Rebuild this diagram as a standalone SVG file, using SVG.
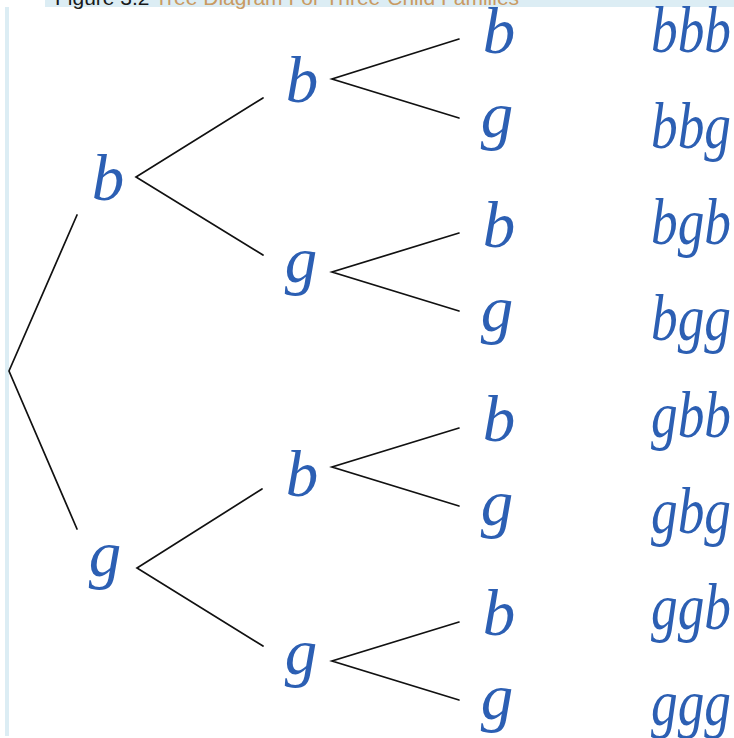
<svg xmlns="http://www.w3.org/2000/svg" width="734" height="738" viewBox="0 0 734 738">
<style>
.bg{fill:#ffffff}
.band{fill:#dcedf4}
.cap{font-family:"Liberation Sans",Arial,sans-serif;font-size:21px}
.capnum{fill:#1a1a1a}
.captitle{fill:#c99a62}
.node{font-family:"Liberation Serif","Times New Roman",serif;font-style:italic;font-size:65px;fill:#2c5fb3;text-anchor:middle}
.leaf{font-family:"Liberation Serif","Times New Roman",serif;font-style:italic;font-size:66px;fill:#2c5fb3}
.edge{stroke:#111111;stroke-width:1.7;fill:none;stroke-linecap:round}
</style>
<rect class="bg" x="0" y="0" width="734" height="738"/>
<rect class="band" x="45" y="0" width="689" height="7"/>
<rect class="band" x="5" y="7" width="4" height="729"/>
<text class="cap" x="55" y="5"><tspan class="capnum">Figure 3.2 </tspan><tspan class="captitle">Tree Diagram For Three-Child Families</tspan></text>

<g id="connectors">
<path class="edge" d="M77 215 L9 371 L77 529"/>
<path class="edge" d="M263 98 L136 177 L263 255"/>
<path class="edge" d="M262 489 L137 568 L263 646"/>
<path class="edge" d="M459 39 L332 79 L459 118"/>
<path class="edge" d="M459 233 L332 272 L459 311"/>
<path class="edge" d="M459 428 L332 467 L459 506"/>
<path class="edge" d="M459 622 L332 661 L459 700"/>
</g>

<g id="n-b"><text class="node" x="108" y="200">b</text></g>
<g id="n-g"><text class="node" x="105" y="576">g</text></g>

<g id="n-bb"><text class="node" x="302" y="102">b</text></g>
<g id="n-bg"><text class="node" x="301" y="282">g</text></g>
<g id="n-gb"><text class="node" x="302" y="496">b</text></g>
<g id="n-gg"><text class="node" x="301" y="674">g</text></g>

<g id="n-bbb"><text class="node" x="499" y="53">b</text></g>
<g id="n-bbg"><text class="node" x="497" y="137">g</text></g>
<g id="n-bgb"><text class="node" x="499" y="247">b</text></g>
<g id="n-bgg"><text class="node" x="497" y="331">g</text></g>
<g id="n-gbb"><text class="node" x="499" y="441">b</text></g>
<g id="n-gbg"><text class="node" x="497" y="525">g</text></g>
<g id="n-ggb"><text class="node" x="499" y="635">b</text></g>
<g id="n-ggg"><text class="node" x="497" y="719">g</text></g>

<g id="leaf-bbb"><text class="leaf" x="651" y="52" textLength="80" lengthAdjust="spacingAndGlyphs">bbb</text></g>
<g id="leaf-bbg"><text class="leaf" x="651" y="148" textLength="80" lengthAdjust="spacingAndGlyphs">bbg</text></g>
<g id="leaf-bgb"><text class="leaf" x="651" y="244" textLength="80" lengthAdjust="spacingAndGlyphs">bgb</text></g>
<g id="leaf-bgg"><text class="leaf" x="651" y="340" textLength="80" lengthAdjust="spacingAndGlyphs">bgg</text></g>
<g id="leaf-gbb"><text class="leaf" x="651" y="437" textLength="80" lengthAdjust="spacingAndGlyphs">gbb</text></g>
<g id="leaf-gbg"><text class="leaf" x="651" y="533" textLength="80" lengthAdjust="spacingAndGlyphs">gbg</text></g>
<g id="leaf-ggb"><text class="leaf" x="651" y="629" textLength="80" lengthAdjust="spacingAndGlyphs">ggb</text></g>
<g id="leaf-ggg"><text class="leaf" x="651" y="725" textLength="80" lengthAdjust="spacingAndGlyphs">ggg</text></g>
</svg>
